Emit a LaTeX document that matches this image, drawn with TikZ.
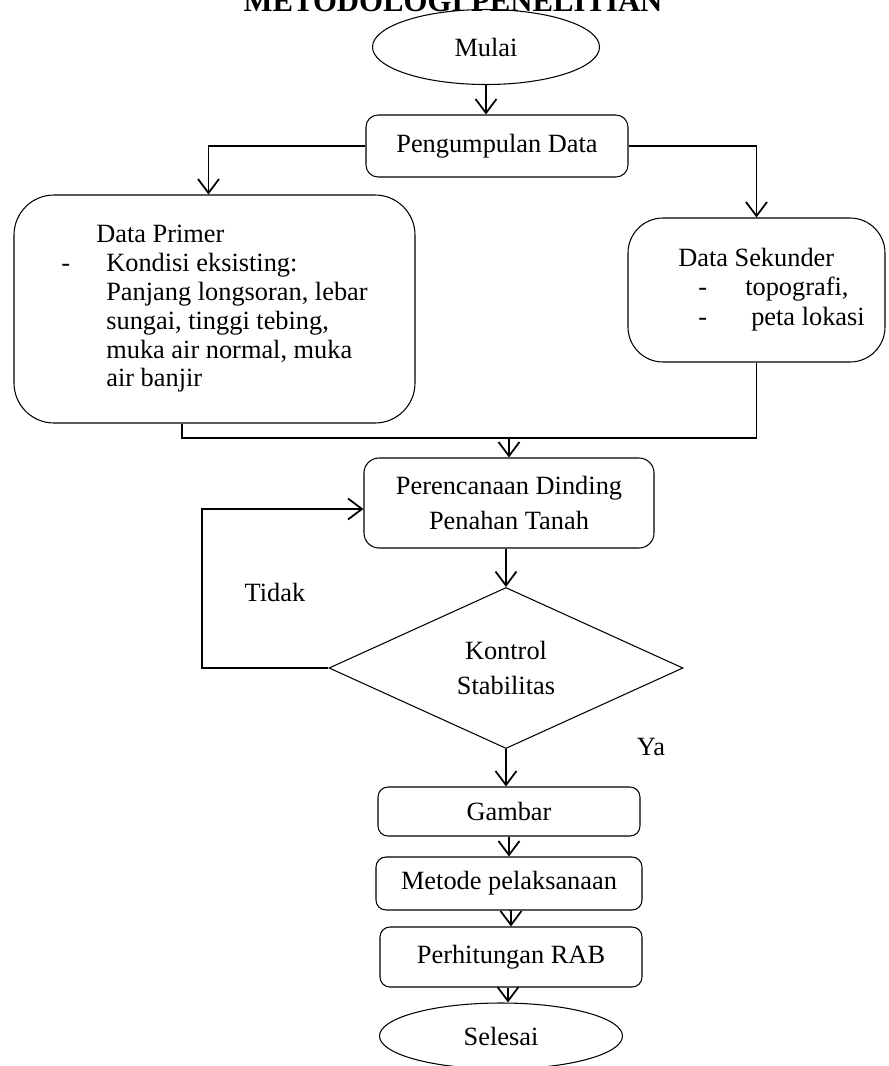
\documentclass[tikz,border=0pt]{standalone}
\usepackage{fontspec}
\setmainfont{Liberation Serif}
\usetikzlibrary{arrows.meta,positioning,shapes.geometric}
\begin{document}
\begin{tikzpicture}[x=0.2mm,y=-0.2mm,font=\fontsize{15}{17}\selectfont,box/.style={draw,line width=0.6pt,rounded corners=#1,align=center,inner sep=0pt},box/.default=2.4mm,oval/.style={draw,line width=0.6pt,ellipse,inner sep=0pt},arr/.style={line width=1pt,-{Straight Barb[length=2.8mm,width=4.2mm]}},garis/.style={line width=1pt}]
\useasboundingbox (0,0) rectangle (888,1066);
\node[anchor=base,font=\fontsize{17.5}{20}\selectfont\bfseries] (judul) at (453,11) {METODOLOGI PENELITIAN};
\node[oval,minimum width=45.4mm,minimum height=15mm] (mulai) at (486,47) {Mulai};
\node[box,minimum width=52.4mm,minimum height=12.4mm] (kumpul) at (497,146) {Pengumpulan Data};
\node[box=8mm,minimum width=80.2mm,minimum height=45.6mm,align=left,font=\fontsize{15}{16.4}\selectfont] (primer) at (214.5,309) {\hspace*{7mm}Data Primer\\\makebox[9mm][l]{-}Kondisi eksisting:\\\hspace*{9mm}Panjang longsoran, lebar\\\hspace*{9mm}sungai, tinggi tebing,\\\hspace*{9mm}muka air normal, muka\\\hspace*{9mm}air banjir};
\node[box=7mm,minimum width=51.4mm,minimum height=28.8mm] (sekunder) at (756.5,290) {\hspace*{6mm}\begin{tabular}{@{}l@{}}Data Sekunder\\\hspace*{4mm}\makebox[9.4mm][l]{-}topografi,\\\hspace*{4mm}\makebox[10.6mm][l]{-}peta lokasi\end{tabular}};
\node[box=3mm,minimum width=58mm,minimum height=18mm,font=\fontsize{15}{20}\selectfont] (rencana) at (509,503) {Perencanaan Dinding\\Penahan Tanah};
\node[draw,line width=0.6pt,diamond,minimum width=70.8mm,minimum height=32.2mm,inner sep=0pt,align=center,font=\fontsize{15}{20}\selectfont] (kontrol) at (506,668) {Kontrol\\Stabilitas};
\node[box=2mm,minimum width=52.4mm,minimum height=9.8mm] (gambar) at (509,811.5) {Gambar};
\node[box=2mm,minimum width=53.2mm,minimum height=10.6mm] (metode) at (509,883.5) {Metode pelaksanaan};
\node[box=2mm,minimum width=52.4mm,minimum height=12mm] (hitung) at (511,957) {Perhitungan RAB};
\node[oval,minimum width=48.6mm,minimum height=13.2mm] (selesai) at (501,1036) {Selesai};
\node (tidak) at (275,592) {Tidak};
\node (ya) at (651,747) {Ya};
\coordinate (gabung) at (509,438);
\coordinate (balik) at (202,668);
\draw[arr] (mulai.south) -- (mulai.south |- kumpul.north);
\draw[arr] (kumpul.west) -| ([xshift=-1.2mm]primer.north);
\draw[arr] (kumpul.east) -| (sekunder.north);
\draw[garis] ([xshift=-6.5mm]primer.south) |- (gabung) -| (sekunder.south);
\draw[arr] (gabung) -- (rencana.north);
\draw[arr] (rencana.south -| kontrol.north) -- (kontrol.north);
\draw[arr] (kontrol.west) -- (balik) |- ([yshift=-1.2mm]rencana.west);
\draw[arr] (kontrol.south) -- (kontrol.south |- gambar.north);
\draw[arr] (gambar.south) -- (metode.north);
\draw[arr] (metode.south) -- (hitung.south |- metode.south) -- (hitung.north);
\draw[arr] ([xshift=-0.6mm]hitung.south) -- ([xshift=-0.6mm]hitung.south |- selesai.north);
\end{tikzpicture}
\end{document}
